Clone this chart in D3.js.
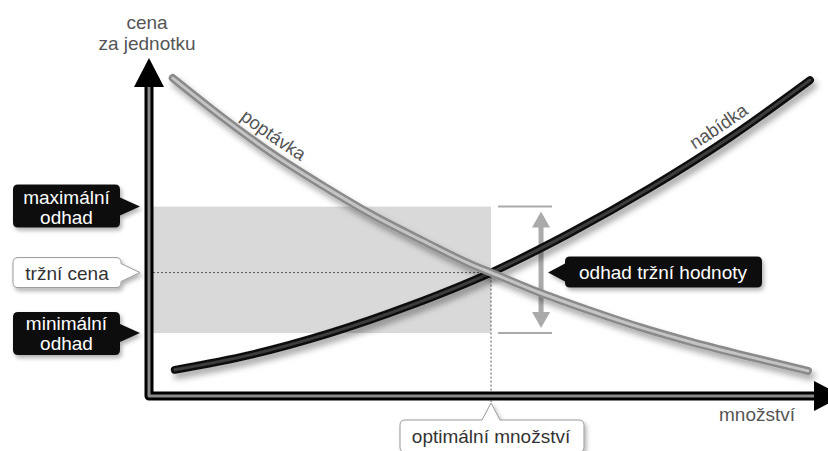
<!DOCTYPE html>
<html>
<head>
<meta charset="utf-8">
<script src="https://cdn.jsdelivr.net/npm/d3@7"></script>
<style>
  html, body { margin: 0; padding: 0; background: #fff; }
  svg { display: block; }
  text { font-family: "Liberation Sans", Arial, Helvetica, sans-serif; }
</style>
</head>
<body>
<script>
// Demand (poptávka) and supply (nabídka) curves, abstract units 0–10
const demandQ = [0.35, 1.09, 1.82, 2.56, 3.29, 4.03, 4.76, 5.03, 5.76, 6.50, 7.24, 7.97, 8.71, 9.69];
const demandP = [9.35, 8.18, 7.12, 6.18, 5.32, 4.56, 3.85, 3.63, 3.03, 2.50, 2.01, 1.59, 1.21, 0.74];
const supplyQ = [0.38, 1.49, 2.66, 3.84, 5.03, 6.19, 7.37, 8.54, 9.72];
const supplyP = [0.77, 1.21, 1.85, 2.66, 3.63, 4.79, 6.12, 7.60, 9.29];

// Equilibrium and the estimate band
const marketQ = 5.03;
const marketP = 3.63;
const maxEstimate = 5.57;
const minEstimate = 1.85;

// Texts
const yAxisLabel = ["cena", "za jednotku"];
const xAxisLabel = "množství";
const demandLabel = "poptávka";
const supplyLabel = "nabídka";
const maxLabel = ["maximální", "odhad"];
const minLabel = ["minimální", "odhad"];
const priceLabel = "tržní cena";
const rangeLabel = "odhad tržní hodnoty";
const quantityLabel = "optimální množství";

const W = 828, H = 451;
const x = d3.scaleLinear().domain([0, 10]).range([149, 829]);
const y = d3.scaleLinear().domain([0, 10]).range([396, 56]);

const svg = d3.select("body").append("svg").attr("width", W).attr("height", H);
const defs = svg.append("defs");

const shadow = defs.append("filter").attr("id", "shadow")
  .attr("x", "-10%").attr("y", "-10%").attr("width", "130%").attr("height", "140%");
shadow.append("feDropShadow").attr("dx", 3).attr("dy", 5)
  .attr("stdDeviation", 3).attr("flood-color", "#000").attr("flood-opacity", 0.35);

const boxShadow = defs.append("filter").attr("id", "boxShadow")
  .attr("x", "-10%").attr("y", "-20%").attr("width", "130%").attr("height", "160%");
boxShadow.append("feDropShadow").attr("dx", 2).attr("dy", 3)
  .attr("stdDeviation", 2).attr("flood-color", "#000").attr("flood-opacity", 0.3);

const x0 = x(0), y0 = y(0);
const qx = x(marketQ), py = y(marketP);
const yMax = y(maxEstimate), yMin = y(minEstimate);

// Estimate band
svg.append("rect")
  .attr("x", x0 + 3).attr("y", yMax)
  .attr("width", qx - x0 - 3).attr("height", yMin - yMax)
  .attr("fill", "#d9d9d9");

// Guide lines to the equilibrium
svg.append("line")
  .attr("x1", x0).attr("x2", qx).attr("y1", py).attr("y2", py)
  .attr("stroke", "#555").attr("stroke-width", 1).attr("stroke-dasharray", "2,2");
svg.append("line")
  .attr("x1", qx).attr("x2", qx).attr("y1", py).attr("y2", y0 + 6)
  .attr("stroke", "#555").attr("stroke-width", 1).attr("stroke-dasharray", "2,2");

// Range bracket with double arrow
const bx1 = qx + 7, bx2 = qx + 61, ax = qx + 50;
[yMax, yMin].forEach(v => {
  svg.append("line").attr("x1", bx1).attr("x2", bx2).attr("y1", v).attr("y2", v)
    .attr("stroke", "#aaa").attr("stroke-width", 2);
});
svg.append("line").attr("x1", ax).attr("x2", ax)
  .attr("y1", yMax + 18).attr("y2", yMin - 18)
  .attr("stroke", "#aaa").attr("stroke-width", 5);
svg.append("path")
  .attr("d", `M${ax},${yMax + 5} L${ax + 9},${yMax + 21} L${ax - 9},${yMax + 21} Z`)
  .attr("fill", "#aaa");
svg.append("path")
  .attr("d", `M${ax},${yMin - 5} L${ax + 9},${yMin - 21} L${ax - 9},${yMin - 21} Z`)
  .attr("fill", "#aaa");

// Curves
const line = d3.line().x(d => x(d[0])).y(d => y(d[1])).curve(d3.curveMonotoneX);
const supplyData = d3.zip(supplyQ, supplyP);
const demandData = d3.zip(demandQ, demandP);

function tube(data, id, outer, inner) {
  const g = svg.append("g").attr("filter", "url(#shadow)");
  g.append("path").attr("id", id).attr("d", line(data))
    .attr("fill", "none").attr("stroke", outer).attr("stroke-width", 8)
    .attr("stroke-linecap", "round");
  g.append("path").attr("d", line(data))
    .attr("fill", "none").attr("stroke", inner).attr("stroke-width", 3)
    .attr("stroke-linecap", "round");
  return g;
}
tube(supplyData, "supplyPath", "#111", "#3c3c3c");
tube(demandData, "demandPath", "#8a8a8a", "#c4c4c4");

// Offset along a path where it reaches a given x
function offsetAtX(id, px) {
  const node = document.getElementById(id);
  const len = node.getTotalLength();
  let lo = 0, hi = len;
  for (let i = 0; i < 40; i++) {
    const mid = (lo + hi) / 2;
    if (node.getPointAtLength(mid).x < px) lo = mid; else hi = mid;
  }
  return lo;
}

svg.append("text").attr("dy", -9).attr("font-size", 18.5).attr("fill", "#555")
  .append("textPath").attr("href", "#demandPath")
  .attr("startOffset", offsetAtX("demandPath", x(1.25)))
  .text(demandLabel);
svg.append("text").attr("dy", -9).attr("font-size", 18.5).attr("fill", "#555")
  .append("textPath").attr("href", "#supplyPath")
  .attr("startOffset", offsetAtX("supplyPath", x(8.1)))
  .text(supplyLabel);

// Axes with arrowheads
const axisPath = `M${x0},${y(9.1)} L${x0},${y0} L${x(9.8)},${y0}`;
svg.append("path").attr("d", axisPath).attr("fill", "none")
  .attr("stroke", "#000").attr("stroke-width", 9).attr("stroke-linejoin", "round");
svg.append("path").attr("d", axisPath).attr("fill", "none")
  .attr("stroke", "#8a8a8a").attr("stroke-width", 3).attr("stroke-linejoin", "round");
svg.append("path")
  .attr("d", `M${x0},58 L${x0 + 15},87 L${x0 - 15},87 Z`).attr("fill", "#000");
svg.append("path")
  .attr("d", `M843,${y0} L814,${y0 - 15} L814,${y0 + 15} Z`).attr("fill", "#000");

// Axis titles
const yt = svg.append("text").attr("text-anchor", "middle").attr("font-size", 19).attr("fill", "#555");
yt.append("tspan").attr("x", 147).attr("y", 29).text(yAxisLabel[0]);
yt.append("tspan").attr("x", 147).attr("y", 50).text(yAxisLabel[1]);
svg.append("text").attr("x", 757).attr("y", 421).attr("text-anchor", "middle")
  .attr("font-size", 19).attr("fill", "#555").text(xAxisLabel);

// Callouts
function rightCallout(bx0, by0, bx1, by1, tipX, tipY) {
  const r = 5, b = 9;
  return `M${bx0 + r},${by0} H${bx1 - r} Q${bx1},${by0} ${bx1},${by0 + r} V${tipY - b} L${tipX},${tipY} L${bx1},${tipY + b} V${by1 - r} Q${bx1},${by1} ${bx1 - r},${by1} H${bx0 + r} Q${bx0},${by1} ${bx0},${by1 - r} V${by0 + r} Q${bx0},${by0} ${bx0 + r},${by0} Z`;
}
function leftCallout(bx0, by0, bx1, by1, tipX, tipY) {
  const r = 5, b = 9;
  return `M${bx0 + r},${by0} H${bx1 - r} Q${bx1},${by0} ${bx1},${by0 + r} V${by1 - r} Q${bx1},${by1} ${bx1 - r},${by1} H${bx0 + r} Q${bx0},${by1} ${bx0},${by1 - r} V${tipY + b} L${tipX},${tipY} L${bx0},${tipY - b} V${by0 + r} Q${bx0},${by0} ${bx0 + r},${by0} Z`;
}
function upCallout(bx0, by0, bx1, by1, tipX, tipY) {
  const r = 5, b = 9;
  return `M${bx0 + r},${by0} H${tipX - b} L${tipX},${tipY} L${tipX + b},${by0} H${bx1 - r} Q${bx1},${by0} ${bx1},${by0 + r} V${by1 - r} Q${bx1},${by1} ${bx1 - r},${by1} H${bx0 + r} Q${bx0},${by1} ${bx0},${by1 - r} V${by0 + r} Q${bx0},${by0} ${bx0 + r},${by0} Z`;
}

function twoLines(cx, yA, lines, color) {
  const t = svg.append("text").attr("text-anchor", "middle").attr("font-size", 19).attr("fill", color);
  t.append("tspan").attr("x", cx).attr("y", yA).text(lines[0]);
  t.append("tspan").attr("x", cx).attr("y", yA + 20).text(lines[1]);
}

// maximální odhad
svg.append("path").attr("d", rightCallout(13, yMax - 22, 120, yMax + 21, x0 - 9, yMax))
  .attr("fill", "#111").attr("filter", "url(#boxShadow)");
twoLines(66.5, yMax - 3, maxLabel, "#fff");

// tržní cena
svg.append("path").attr("d", rightCallout(13, py - 15, 121, py + 15, x0 - 9, py))
  .attr("fill", "#fff").attr("stroke", "#999").attr("stroke-width", 1)
  .attr("filter", "url(#boxShadow)");
svg.append("text").attr("x", 67).attr("y", py + 7).attr("text-anchor", "middle")
  .attr("font-size", 19).attr("fill", "#333").text(priceLabel);

// minimální odhad
svg.append("path").attr("d", rightCallout(13, yMin - 21, 120, yMin + 22, x0 - 9, yMin))
  .attr("fill", "#111").attr("filter", "url(#boxShadow)");
twoLines(66.5, yMin - 3, minLabel, "#fff");

// odhad tržní hodnoty
svg.append("path").attr("d", leftCallout(565, py - 16, 762, py + 15, ax + 7, py))
  .attr("fill", "#111").attr("filter", "url(#boxShadow)");
svg.append("text").attr("x", 663).attr("y", py + 6).attr("text-anchor", "middle")
  .attr("font-size", 19).attr("fill", "#fff").text(rangeLabel);

// optimální množství
svg.append("path").attr("d", upCallout(400, 420, 584, 452, qx, y0 + 7))
  .attr("fill", "#fff").attr("stroke", "#999").attr("stroke-width", 1)
  .attr("filter", "url(#boxShadow)");
svg.append("text").attr("x", qx).attr("y", 443).attr("text-anchor", "middle")
  .attr("font-size", 19).attr("fill", "#333").text(quantityLabel);
</script>
</body>
</html>
